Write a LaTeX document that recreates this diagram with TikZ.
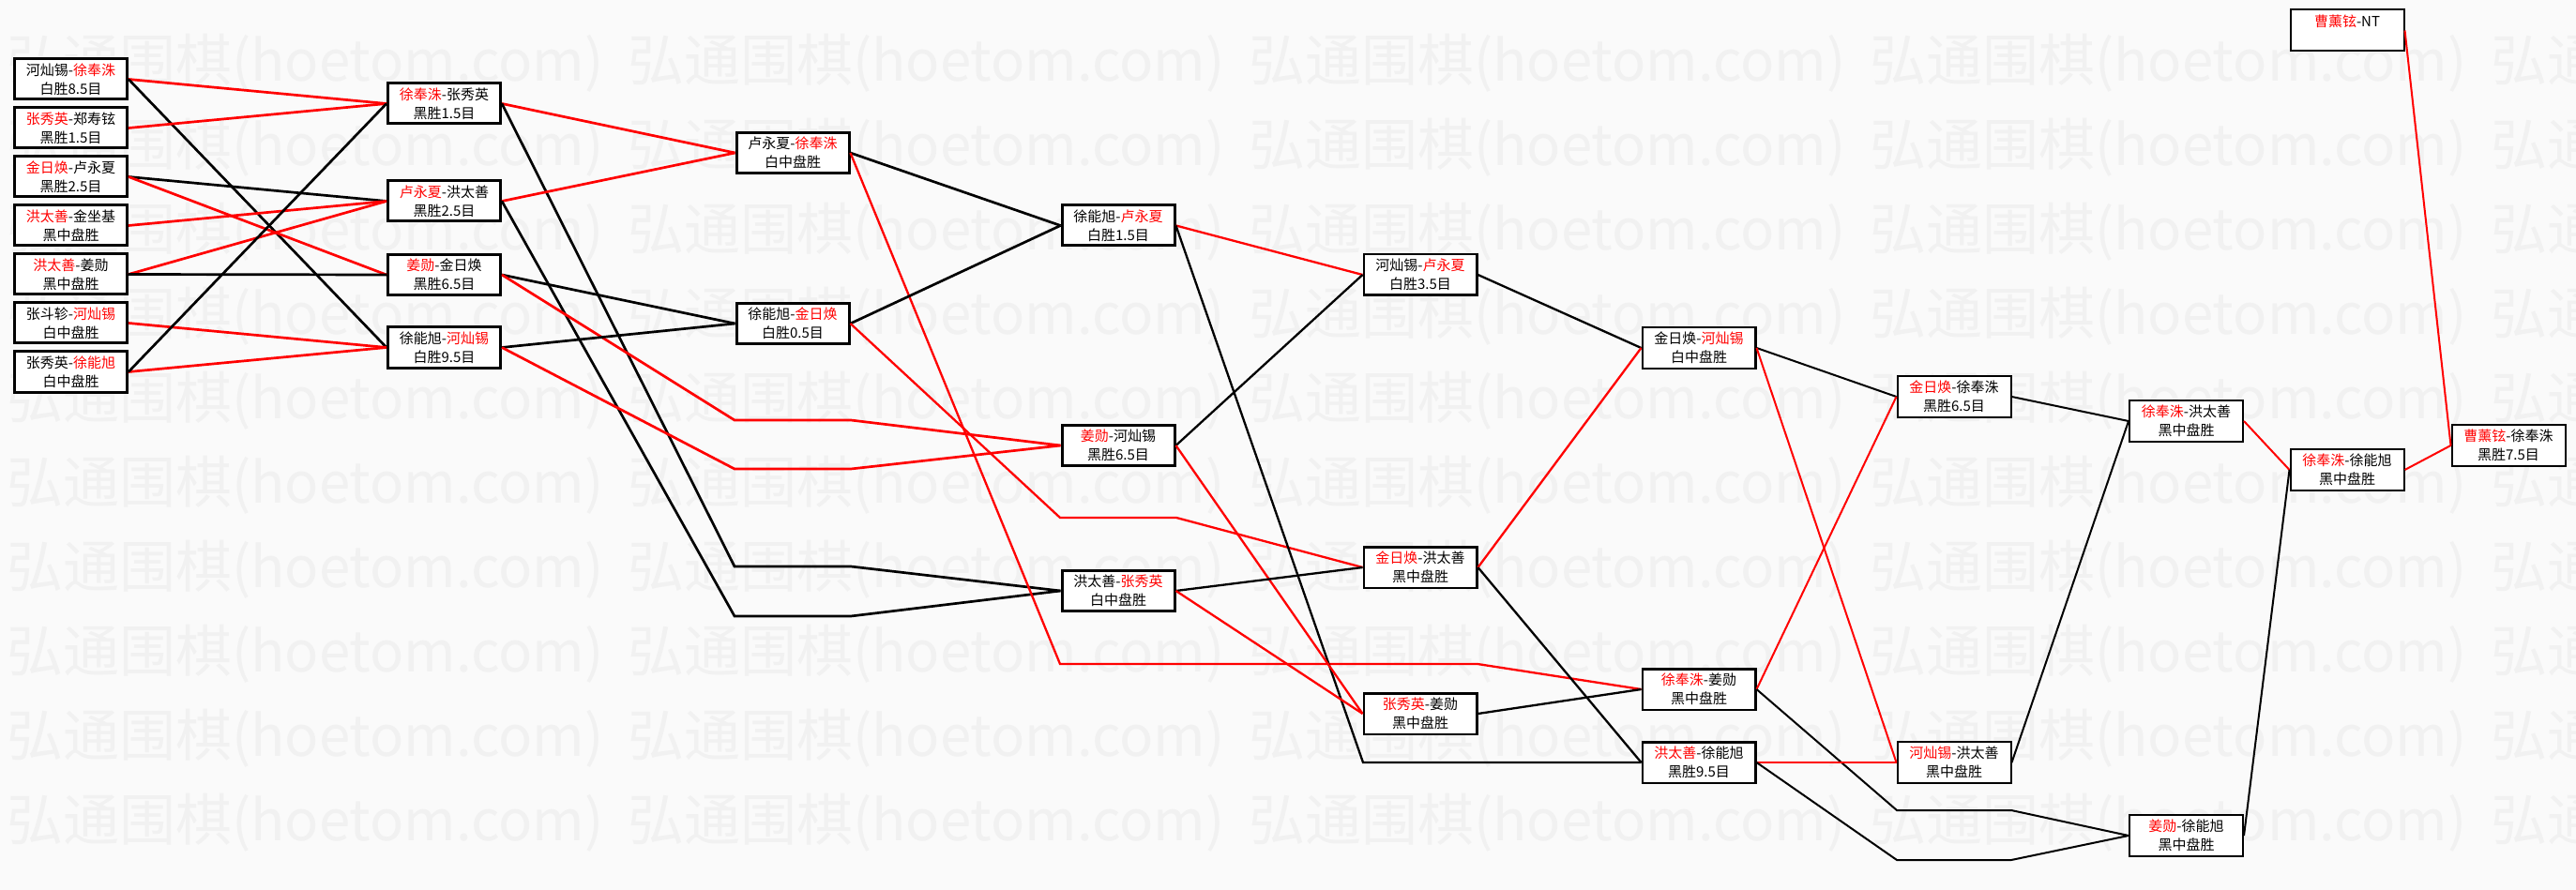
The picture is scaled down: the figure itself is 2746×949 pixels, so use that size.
\documentclass[tikz,border=0pt]{standalone}
\usepackage{fontspec}
\setmainfont{Noto Sans CJK SC}
\definecolor{lred}{HTML}{FF0000}
\definecolor{bgc}{HTML}{FAFAFA}
\definecolor{wmc}{HTML}{F1F1F1}
\newcommand\redn[1]{\textcolor{lred}{#1}}
\begin{document}
\begin{tikzpicture}[x=1pt,y=-1pt,
 box/.style={draw=black,fill=white,line width=3pt,minimum width=120pt,minimum height=43pt,inner sep=0pt,align=center,font=\fontsize{15}{20}\selectfont},
 boxm/.style={box,line width=2.5pt,minimum width=120.5pt,minimum height=43.5pt},
 boxs/.style={box,line width=2pt,minimum width=121pt,minimum height=44pt},
 kw/.style={draw=black,line width=2.7pt},
 rw/.style={draw=lred,line width=2.7pt},
 kwm/.style={draw=black,line width=2.3pt},
 rwm/.style={draw=lred,line width=2.3pt},
 kws/.style={draw=black,line width=2pt},
 rws/.style={draw=lred,line width=2pt},
 wm/.style={text=wmc,font=\fontsize{60}{60}\selectfont,anchor=west,inner sep=0pt}]
\fill[bgc] (0,0) rectangle (2746,949);
\useasboundingbox (0,0) rectangle (2746,949);
\begin{scope}
\clip (0,0) rectangle (2746,949);
\foreach \r in {0,...,9}{
  \foreach \c in {0,...,4}{
    \node[wm] (wm\r\c) at (7+662*\c,67+90*\r) {弘通围棋(hoetom.com)};
  }
}
\end{scope}
% column 1
\node[box] (a1) at (75.5,84.5) {河灿锡-\redn{徐奉洙}\\白胜8.5目};
\node[box] (a2) at (75.5,136.5) {\redn{张秀英}-郑寿铉\\黑胜1.5目};
\node[box] (a3) at (75.5,188.5) {\redn{金日焕}-卢永夏\\黑胜2.5目};
\node[box] (a4) at (75.5,240.5) {\redn{洪太善}-金坐基\\黑中盘胜};
\node[box] (a5) at (75.5,292.5) {\redn{洪太善}-姜勋\\黑中盘胜};
\node[box] (a6) at (75.5,344.5) {张斗轸-\redn{河灿锡}\\白中盘胜};
\node[box] (a7) at (75.5,396.5) {张秀英-\redn{徐能旭}\\白中盘胜};
% column 2
\node[box] (b1) at (473.5,110.5) {\redn{徐奉洙}-张秀英\\黑胜1.5目};
\node[box] (b2) at (473.5,214.5) {\redn{卢永夏}-洪太善\\黑胜2.5目};
\node[box] (b3) at (473.5,293) {\redn{姜勋}-金日焕\\黑胜6.5目};
\node[box] (b4) at (473.5,370.5) {徐能旭-\redn{河灿锡}\\白胜9.5目};
% column 3
\node[box] (c1) at (845,163) {卢永夏-\redn{徐奉洙}\\白中盘胜};
\node[box] (c2) at (845,345) {徐能旭-\redn{金日焕}\\白胜0.5目};
% column 4
\node[box] (d1) at (1192,240.5) {徐能旭-\redn{卢永夏}\\白胜1.5目};
\node[box] (d2) at (1192,475) {\redn{姜勋}-河灿锡\\黑胜6.5目};
\node[box] (d3) at (1192,630) {洪太善-\redn{张秀英}\\白中盘胜};
% column 5
\node[boxm] (e1) at (1514,293) {河灿锡-\redn{卢永夏}\\白胜3.5目};
\node[boxm] (e2) at (1514,605) {\redn{金日焕}-洪太善\\黑中盘胜};
\node[boxm] (e3) at (1514,761) {\redn{张秀英}-姜勋\\黑中盘胜};
% column 6
\node[boxm] (f1) at (1811,371) {金日焕-\redn{河灿锡}\\白中盘胜};
\node[boxm] (f2) at (1811,735) {\redn{徐奉洙}-姜勋\\黑中盘胜};
\node[boxm] (f3) at (1811,813) {\redn{洪太善}-徐能旭\\黑胜9.5目};
% column 7
\node[boxs] (h1) at (2083,423) {\redn{金日焕}-徐奉洙\\黑胜6.5目};
\node[boxs] (h2) at (2083,813) {\redn{河灿锡}-洪太善\\黑中盘胜};
% column 8
\node[boxs] (i1) at (2330.5,449) {\redn{徐奉洙}-洪太善\\黑中盘胜};
\node[boxs] (i2) at (2330.5,891) {\redn{姜勋}-徐能旭\\黑中盘胜};
% column 9
\node[boxs] (j1) at (2502,32.5) {\redn{曹薰铉}-NT\\\phantom{黑}};
\node[boxs] (j2) at (2502,501) {\redn{徐奉洙}-徐能旭\\黑中盘胜};
% column 10
\node[boxs] (k1) at (2674,475) {\redn{曹薰铉}-徐奉洙\\黑胜7.5目};
% bend points
\coordinate (g1) at (783,604); \coordinate (g1b) at (907,604);
\coordinate (g2) at (783,657); \coordinate (g2b) at (907,657);
\coordinate (g3) at (783,448); \coordinate (g3b) at (907,448);
\coordinate (g4) at (783,500); \coordinate (g4b) at (907,500);
\coordinate (g5) at (1130,708); \coordinate (g5b) at (1575,708);
\coordinate (g6) at (1130,552); \coordinate (g6b) at (1254,552);
\coordinate (g7) at (1453,813);
\coordinate (g8) at (2022,864); \coordinate (g8b) at (2144,864);
\coordinate (g9) at (2022,917); \coordinate (g9b) at (2144,917);
% connectors
\draw[rw] (a1.east) -- (b1.west);
\draw[kw] (a1.east) -- (b4.west);
\draw[rw] (a2.east) -- (b1.west);
\draw[kw] (a3.east) -- (b2.west);
\draw[rw] (a3.east) -- (b3.west);
\draw[rw] (a4.east) -- (b2.west);
\draw[rw] (a5.east) -- (b2.west);
\draw[kw] (a5.east) -- (b3.west);
\draw[rw] (a6.east) -- (b4.west);
\draw[rw] (a7.east) -- (b4.west);
\draw[kw] (a7.east) -- (b1.west);
\draw[rw] (b1.east) -- (c1.west);
\draw[kw] (b1.east) -- (g1) -- (g1b) -- (d3.west);
\draw[rw] (b2.east) -- (c1.west);
\draw[kw] (b2.east) -- (g2) -- (g2b) -- (d3.west);
\draw[kw] (b3.east) -- (c2.west);
\draw[rw] (b3.east) -- (g3) -- (g3b) -- (d2.west);
\draw[kw] (b4.east) -- (c2.west);
\draw[rw] (b4.east) -- (g4) -- (g4b) -- (d2.west);
\draw[kw] (c1.east) -- (d1.west);
\draw[rwm] (c1.east) -- (g5) -- (g5b) -- (f2.west);
\draw[kw] (c2.east) -- (d1.west);
\draw[rwm] (c2.east) -- (g6) -- (g6b) -- (e2.west);
\draw[rwm] (d1.east) -- (e1.west);
\draw[kwm] (d1.east) -- (g7) -- (f3.west);
\draw[kwm] (d2.east) -- (e1.west);
\draw[rwm] (d2.east) -- (e3.west);
\draw[kwm] (d3.east) -- (e2.west);
\draw[rwm] (d3.east) -- (e3.west);
\draw[kwm] (e1.east) -- (f1.west);
\draw[rwm] (e2.east) -- (f1.west);
\draw[kwm] (e2.east) -- (f3.west);
\draw[kwm] (e3.east) -- (f2.west);
\draw[kws] (f1.east) -- (h1.west);
\draw[rws] (f1.east) -- (h2.west);
\draw[rws] (f2.east) -- (h1.west);
\draw[kws] (f2.east) -- (g8) -- (g8b) -- (i2.west);
\draw[rws] (f3.east) -- (h2.west);
\draw[kws] (f3.east) -- (g9) -- (g9b) -- (i2.west);
\draw[kws] (h1.east) -- (i1.west);
\draw[kws] (h2.east) -- (i1.west);
\draw[rws] (i1.east) -- (j2.west);
\draw[kws] (i2.east) -- (j2.west);
\draw[rws] (j1.east) -- (k1.west);
\draw[rws] (j2.east) -- (k1.west);
\end{tikzpicture}
\end{document}
